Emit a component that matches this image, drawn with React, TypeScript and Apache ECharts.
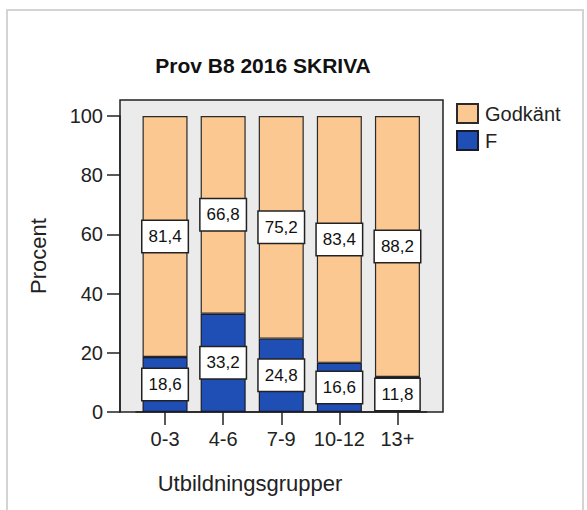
import React, { useEffect, useRef } from "react";
import * as echarts from "echarts";

const categories = ["0-3", "4-6", "7-9", "10-12", "13+"];
const fValues = [18.6, 33.2, 24.8, 16.6, 11.8];
const godkantValues = [81.4, 66.8, 75.2, 83.4, 88.2];
const yTicks = [0, 20, 40, 60, 80, 100];
const titleText = "Prov B8 2016 SKRIVA";
const xName = "Utbildningsgrupper";
const yName = "Procent";

const FONT = "'Liberation Sans', Arial, sans-serif";

export default function App() {
  const ref = useRef<HTMLDivElement>(null);
  useEffect(() => {
    if (!ref.current) return;
    const chart = echarts.init(ref.current, null, { renderer: "svg" });
    const fmt = (p: any) => Number(p.value).toFixed(1).replace(".", ",");
    const labelStyle = {
      show: true,
      position: "inside",
      formatter: fmt,
      backgroundColor: "#ffffff",
      borderColor: "#222",
      borderWidth: 1.5,
      padding: [7, 6],
      fontSize: 17,
      color: "#111",
      fontFamily: FONT,
    };
    chart.setOption({
      animation: false,
      backgroundColor: "#ffffff",
      textStyle: { fontFamily: FONT },
      graphic: [
        {
          type: "rect",
          z: -10,
          shape: { x: 7, y: 10, width: 576, height: 530 },
          style: { fill: "#ffffff", stroke: "#d4d4d4", lineWidth: 2 },
          silent: true,
        },
        {
          type: "rect",
          z: -5,
          shape: { x: 120, y: 100, width: 323, height: 312 },
          style: { fill: "#ebebeb", stroke: "#222", lineWidth: 1.5 },
          silent: true,
        },
        {
          type: "text",
          x: 263,
          y: 65,
          style: {
            text: titleText,
            font: `bold 21px ${FONT}`,
            fill: "#111",
            textAlign: "center",
            textVerticalAlign: "middle",
          },
        },
        {
          type: "text",
          x: 250,
          y: 483,
          style: {
            text: xName,
            font: `22px ${FONT}`,
            fill: "#222",
            textAlign: "center",
            textVerticalAlign: "middle",
          },
        },
        {
          type: "text",
          x: 38,
          y: 256,
          rotation: Math.PI / 2,
          style: {
            text: yName,
            font: `22px ${FONT}`,
            fill: "#222",
            textAlign: "center",
            textVerticalAlign: "middle",
          },
        },
      ],
      legend: {
        data: ["Godkänt", "F"],
        orient: "vertical",
        left: 451,
        top: 98,
        itemWidth: 21,
        itemHeight: 19,
        itemGap: 6,
        icon: "rect",
        textStyle: { fontSize: 20, color: "#222", fontFamily: FONT, padding: [0, 0, 0, 2] },
      },
      grid: { left: 136, right: 160.5, top: 116, bottom: 98, containLabel: false },
      xAxis: {
        type: "category",
        data: categories,
        axisLine: { show: true, lineStyle: { color: "#222", width: 1.5 } },
        axisTick: { show: true, alignWithLabel: true, length: 13, lineStyle: { color: "#222", width: 1.5 } },
        axisLabel: { fontSize: 20, color: "#222", margin: 17, fontFamily: FONT, interval: 0 },
      },
      yAxis: {
        type: "value",
        min: 0,
        max: 100,
        interval: 20,
        offset: 16,
        axisLine: { show: true, lineStyle: { color: "#222", width: 1.5 } },
        axisTick: { show: true, length: 13, lineStyle: { color: "#222", width: 1.5 } },
        axisLabel: {
          fontSize: 20,
          color: "#222",
          margin: 17,
          fontFamily: FONT,
          formatter: (v: number) => (yTicks.includes(v) ? String(v) : ""),
        },
        splitLine: { show: false },
      },
      series: [
        {
          name: "F",
          type: "bar",
          stack: "total",
          barWidth: 45,
          data: fValues,
          itemStyle: { color: "#1f4fb4", borderColor: "#1a1a2a", borderWidth: 1.2 },
          label: labelStyle,
        },
        {
          name: "Godkänt",
          type: "bar",
          stack: "total",
          barWidth: 45,
          data: godkantValues,
          itemStyle: { color: "#fcc892", borderColor: "#2a2a2a", borderWidth: 1.2 },
          label: labelStyle,
        },
      ],
    });
    return () => chart.dispose();
  }, []);
  return (
    <div
      ref={ref}
      style={{ position: "fixed", left: 0, top: 0, width: 587, height: 510 }}
    />
  );
}
